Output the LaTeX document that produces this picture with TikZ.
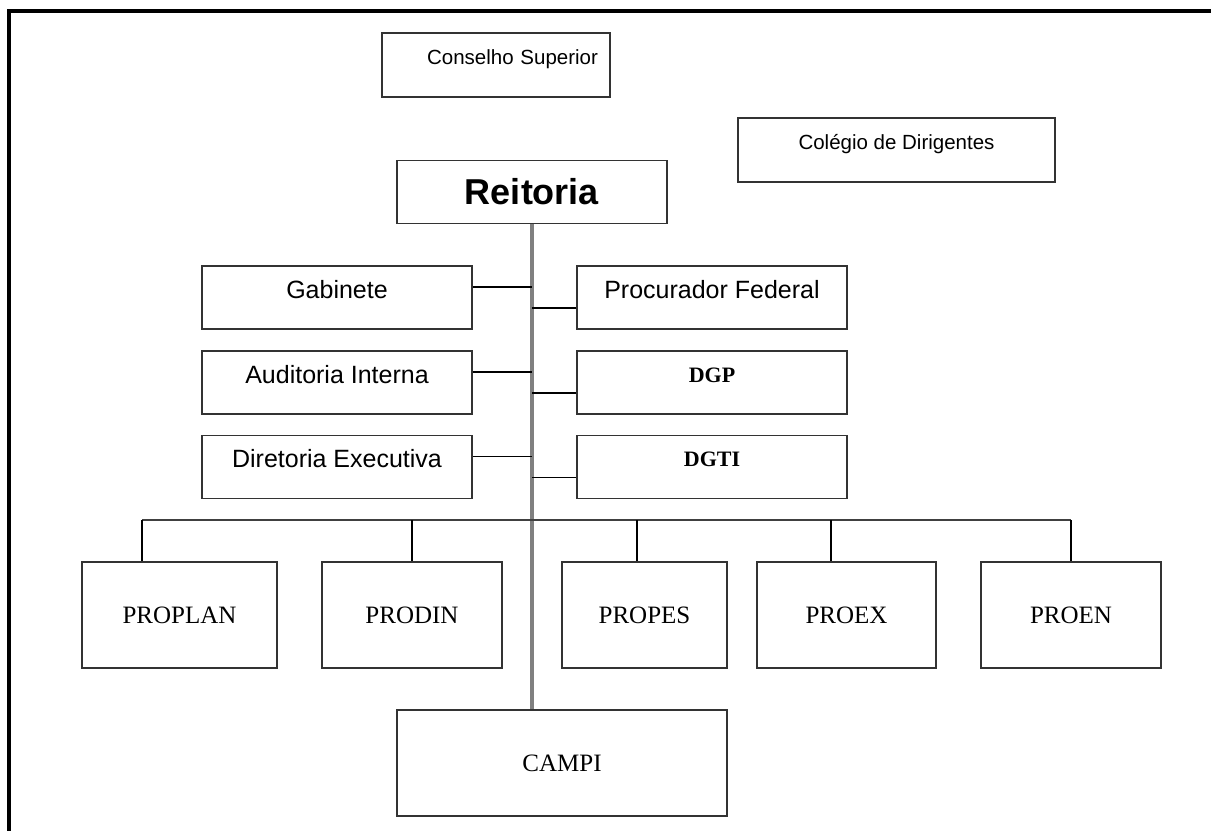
\documentclass[tikz,border=0pt]{standalone}
\usepackage{fontspec}
\setmainfont{Liberation Serif}
\setsansfont{Liberation Sans}
\tikzset{
  box/.style={draw=black!80, line width=1.6pt, rectangle, inner sep=0pt, align=center},
  toplbl/.style={font=\sffamily\fontsize{20.5}{25}\selectfont, text height=0.72em, text depth=0.85em},
  midlbl/.style={font=\sffamily\fontsize{25}{29}\selectfont, text height=0.72em, text depth=0.55em},
  dirlbl/.style={font=\rmfamily\bfseries\fontsize{22}{26}\selectfont, text height=0.7em, text depth=0.78em},
  prolbl/.style={font=\rmfamily\fontsize{25}{29}\selectfont},
  link/.style={draw=black, line width=1.6pt},
  trunk/.style={draw=black!50, line width=3.2pt},
  bus/.style={draw=black!75, line width=2pt}
}
\begin{document}
\begin{tikzpicture}[x=1pt, y=-1pt]
		\useasboundingbox (0,0) rectangle (1211,831);
		\draw [line width=3.5pt] (1211,11) -- (9,11) -- (9,831);
		
		% conselhos
		\node [box, toplbl, minimum width=228pt, minimum height=64pt, text width=204pt, align=right] (cons) at (496,65) {Conselho Superior};
		\node [box, toplbl, minimum width=317pt, minimum height=64pt] (coleg) at (896.5,150) {Colégio de Dirigentes};
		\node [box, font=\sffamily\bfseries\fontsize{36}{40}\selectfont, minimum width=270pt, minimum height=63pt] (reit) at (532,192) {Reitoria};
		
		% assessorias
		\node [box, midlbl, minimum width=270pt, minimum height=63pt] (gab) at (337,297.5) {Gabinete};
		\node [box, midlbl, minimum width=270pt, minimum height=63pt] (aud) at (337,382.5) {Auditoria Interna};
		\node [box, midlbl, minimum width=270pt, minimum height=63pt] (dir) at (337,467) {Diretoria Executiva};
		\node [box, midlbl, minimum width=270pt, minimum height=63pt] (proc) at (712,297.5) {Procurador Federal};
		\node [box, dirlbl, minimum width=270pt, minimum height=63pt] (dgp) at (712,382.5) {DGP};
		\node [box, dirlbl, minimum width=270pt, minimum height=63pt] (dgti) at (712,467) {DGTI};
		
		% pro-reitorias
		\node [box, prolbl, minimum width=195pt, minimum height=106pt] (proplan) at (179.5,615) {PROPLAN};
		\node [box, prolbl, minimum width=180pt, minimum height=106pt] (prodin) at (412,615) {PRODIN};
		\node [box, prolbl, minimum width=165pt, minimum height=106pt] (propes) at (644.5,615) {PROPES};
		\node [box, prolbl, minimum width=179pt, minimum height=106pt] (proex) at (846.5,615) {PROEX};
		\node [box, prolbl, minimum width=180pt, minimum height=106pt] (proen) at (1071,615) {PROEN};
		\node [box, prolbl, minimum width=330pt, minimum height=106pt] (campi) at (562,763) {CAMPI};
		
		\draw [trunk] (reit.south) -- (reit.south |- campi.north);
		
		\draw [link] ([yshift=10.5pt]gab.east) -- ([yshift=10.5pt]gab.east -| reit.south);
		\draw [link] ([yshift=10.5pt]aud.east) -- ([yshift=10.5pt]aud.east -| reit.south);
		\draw [link] ([yshift=10.5pt]dir.east) -- ([yshift=10.5pt]dir.east -| reit.south);
		\draw [link] ([yshift=-10.5pt]proc.west) -- ([yshift=-10.5pt]proc.west -| reit.south);
		\draw [link] ([yshift=-10.5pt]dgp.west) -- ([yshift=-10.5pt]dgp.west -| reit.south);
		\draw [link] ([yshift=-10.5pt]dgti.west) -- ([yshift=-10.5pt]dgti.west -| reit.south);
		
		\coordinate (b1) at (142,520);
		\coordinate (b2) at (412,520);
		\coordinate (b3) at (637,520);
		\coordinate (b4) at (831,520);
		\coordinate (b5) at (1071,520);
		\draw [bus] (b1) -- (b5);
		\draw [link] (b1) -- (b1 |- proplan.north);
		\draw [link] (b2) -- (b2 |- prodin.north);
		\draw [link] (b3) -- (b3 |- propes.north);
		\draw [link] (b4) -- (b4 |- proex.north);
		\draw [link] (b5) -- (b5 |- proen.north);
	\end{tikzpicture}
\end{document}
